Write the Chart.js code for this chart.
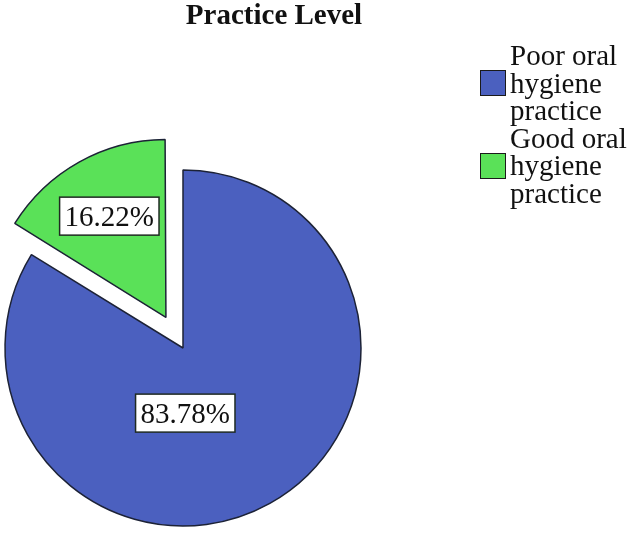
<!DOCTYPE html>
<html>
<head>
<meta charset="utf-8">
<title>Practice Level</title>
<script src="https://cdn.jsdelivr.net/npm/chart.js@4.4.1/dist/chart.umd.min.js"></script>
<style>
  body { margin: 0; background: #fff; }
  #wrap { position: relative; width: 633px; height: 533px; font-family: 'Liberation Serif', 'Times New Roman', serif; color: #111; }
  #practiceChart { position: absolute; left: 0; top: 0; }
  #chartTitle { position: absolute; left: 0; top: 0; width: 548px; text-align: center; font-weight: bold; font-size: 29px; line-height: 29px; }
  #legend { position: absolute; left: 480px; top: 42px; }
  .item { display: flex; align-items: center; }
  .swatch { width: 24px; height: 24px; border: 1.5px solid #1a1a1a; margin-right: 4px; flex: none; }
  .label { width: 122px; font-size: 29px; line-height: 27.5px; }
</style>
</head>
<body>
<div id="wrap">
  <canvas id="practiceChart" width="633" height="533"></canvas>
  <div id="chartTitle">Practice Level</div>
  <div id="legend"></div>
</div>

<script>
// data
const categories = ['Poor oral hygiene practice', 'Good oral hygiene practice'];
const percentages = [83.78, 16.22];
const sliceColors = ['#4b60bf', '#5ae158'];

// Chart.js moves an exploded slice by offset / 4, so 140 -> 35px
const explode = [0, 140];

// legend, built from the same arrays
const legend = document.getElementById('legend');
categories.forEach((name, i) => {
  const item = document.createElement('div');
  item.className = 'item';
  item.innerHTML = `<div class="swatch" style="background:${sliceColors[i]}"></div><div class="label">${name}</div>`;
  legend.appendChild(item);
});

// Chart.js also grows an exploded slice a little; keep it the same size as the others
const keepRadius = {
  id: 'keepRadius',
  beforeDatasetsDraw(chart) {
    const meta = chart.getDatasetMeta(0);
    const full = meta.controller.outerRadius;
    meta.data.forEach((arc, i) => {
      const shift = (explode[i] || 0) / 4;
      const fix = 1 - Math.sin(Math.min(Math.PI, arc.circumference || 0));
      arc.outerRadius = full - shift * fix;
    });
  }
};

// white boxed percent labels on each slice
const sliceLabels = {
  id: 'sliceLabels',
  afterDatasetsDraw(chart, args, opts) {
    const ctx = chart.ctx;
    const meta = chart.getDatasetMeta(0);
    const full = meta.controller.outerRadius;
    ctx.save();
    ctx.font = '29px "Liberation Serif", serif';
    ctx.textAlign = 'center';
    ctx.textBaseline = 'alphabetic';
    meta.data.forEach((arc, i) => {
      const p = arc.getProps(['x', 'y', 'startAngle', 'endAngle'], true);
      const mid = (p.startAngle + p.endAngle) / 2;
      const shift = (explode[i] || 0) / 4;
      const place = opts.placement[i];
      const ang = place.angle != null ? place.angle * Math.PI / 180 : mid;
      const cx = p.x + Math.cos(mid) * shift + Math.cos(ang) * full * place.dist;
      const cy = p.y + Math.sin(mid) * shift + Math.sin(ang) * full * place.dist;
      const text = percentages[i].toFixed(2) + '%';
      const w = ctx.measureText(text).width + 10;
      const h = 38;
      ctx.fillStyle = '#fff';
      ctx.fillRect(cx - w / 2, cy - h / 2, w, h);
      ctx.lineWidth = 1.5;
      ctx.strokeStyle = '#1f2a22';
      ctx.strokeRect(cx - w / 2, cy - h / 2, w, h);
      ctx.fillStyle = '#111';
      ctx.fillText(text, cx, cy + 10);
    });
    ctx.restore();
  }
};

new Chart(document.getElementById('practiceChart'), {
  type: 'pie',
  data: {
    labels: categories,
    datasets: [{
      data: percentages,
      backgroundColor: sliceColors,
      borderColor: '#1c2236',
      borderWidth: 1.5,
      offset: explode
    }]
  },
  options: {
    responsive: false,
    animation: false,
    radius: 178,
    layout: { padding: { left: 0, right: 267, top: 163, bottom: 0 } },
    plugins: {
      legend: { display: false },
      title: { display: false },
      tooltip: { enabled: false },
      sliceLabels: {
        placement: [{ dist: 0.366, angle: 88 }, { dist: 0.652 }]
      }
    }
  },
  plugins: [keepRadius, sliceLabels]
});
</script>
</body>
</html>
